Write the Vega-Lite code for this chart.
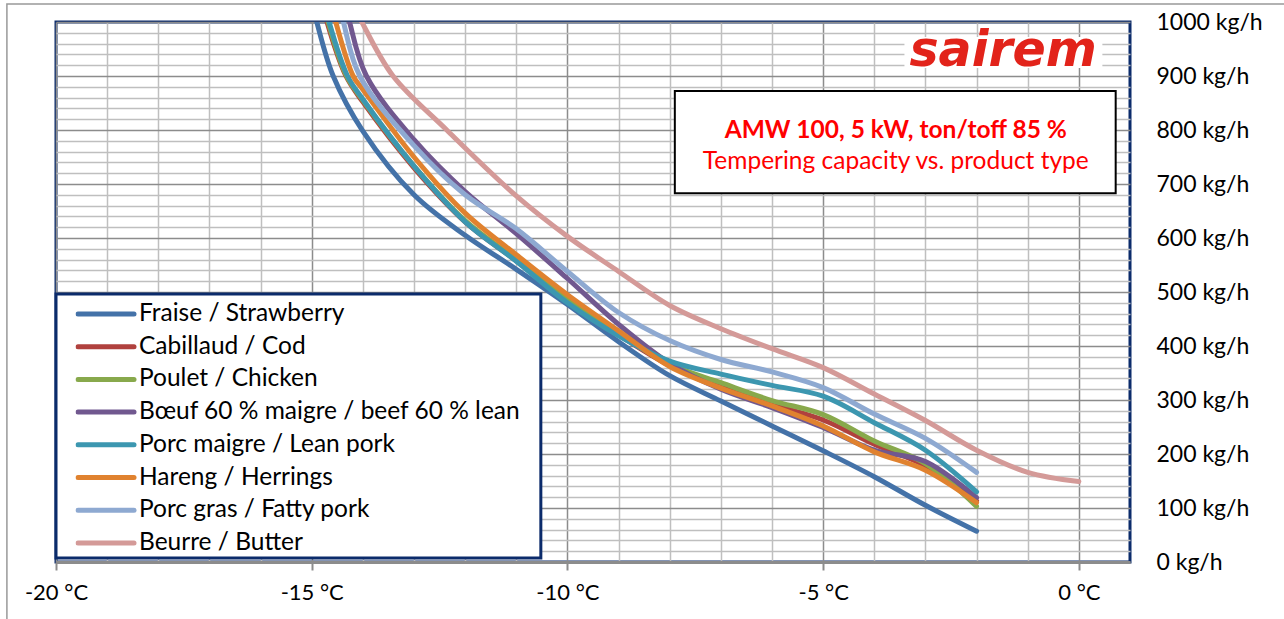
{
  "$schema": "https://vega.github.io/schema/vega-lite/v6.json",
  "width": 1074,
  "height": 540,
  "autosize": {"type": "none"},
  "padding": {"left": 56, "top": 22, "right": 154, "bottom": 57},
  "background": "white",
  "config": {"view": {"stroke": "#0B2B6B", "strokeWidth": 3}, "font": "Lato"},
  "datasets": {
    "curves": [
      {"s": "Fraise / Strawberry", "t": -15.0, "v": 1040}, {"s": "Fraise / Strawberry", "t": -14.9, "v": 1000}, {"s": "Fraise / Strawberry", "t": -14.58, "v": 900}, {"s": "Fraise / Strawberry", "t": -14, "v": 798}, {"s": "Fraise / Strawberry", "t": -13, "v": 680}, {"s": "Fraise / Strawberry", "t": -12, "v": 605}, {"s": "Fraise / Strawberry", "t": -11, "v": 542}, {"s": "Fraise / Strawberry", "t": -10, "v": 477}, {"s": "Fraise / Strawberry", "t": -9, "v": 408}, {"s": "Fraise / Strawberry", "t": -8, "v": 345}, {"s": "Fraise / Strawberry", "t": -7, "v": 298}, {"s": "Fraise / Strawberry", "t": -6, "v": 252}, {"s": "Fraise / Strawberry", "t": -5, "v": 206}, {"s": "Fraise / Strawberry", "t": -4, "v": 158}, {"s": "Fraise / Strawberry", "t": -3, "v": 105}, {"s": "Fraise / Strawberry", "t": -2, "v": 57},
      {"s": "Cabillaud / Cod", "t": -14.8, "v": 1040}, {"s": "Cabillaud / Cod", "t": -14.7, "v": 1000}, {"s": "Cabillaud / Cod", "t": -14.33, "v": 900}, {"s": "Cabillaud / Cod", "t": -14, "v": 852}, {"s": "Cabillaud / Cod", "t": -13, "v": 730}, {"s": "Cabillaud / Cod", "t": -12, "v": 630}, {"s": "Cabillaud / Cod", "t": -11, "v": 558}, {"s": "Cabillaud / Cod", "t": -10, "v": 486}, {"s": "Cabillaud / Cod", "t": -9, "v": 421}, {"s": "Cabillaud / Cod", "t": -8, "v": 364}, {"s": "Cabillaud / Cod", "t": -7, "v": 325}, {"s": "Cabillaud / Cod", "t": -6, "v": 292}, {"s": "Cabillaud / Cod", "t": -5, "v": 263}, {"s": "Cabillaud / Cod", "t": -4, "v": 218}, {"s": "Cabillaud / Cod", "t": -3, "v": 178}, {"s": "Cabillaud / Cod", "t": -2, "v": 113},
      {"s": "Poulet / Chicken", "t": -14.78, "v": 1040}, {"s": "Poulet / Chicken", "t": -14.68, "v": 1000}, {"s": "Poulet / Chicken", "t": -14.32, "v": 900}, {"s": "Poulet / Chicken", "t": -14, "v": 855}, {"s": "Poulet / Chicken", "t": -13, "v": 733}, {"s": "Poulet / Chicken", "t": -12, "v": 632}, {"s": "Poulet / Chicken", "t": -11, "v": 560}, {"s": "Poulet / Chicken", "t": -10, "v": 488}, {"s": "Poulet / Chicken", "t": -9, "v": 423}, {"s": "Poulet / Chicken", "t": -8, "v": 366}, {"s": "Poulet / Chicken", "t": -7, "v": 332}, {"s": "Poulet / Chicken", "t": -6, "v": 299}, {"s": "Poulet / Chicken", "t": -5, "v": 273}, {"s": "Poulet / Chicken", "t": -4, "v": 224}, {"s": "Poulet / Chicken", "t": -3, "v": 182}, {"s": "Poulet / Chicken", "t": -2, "v": 103},
      {"s": "Bœuf 60 % maigre / beef 60 % lean", "t": -14.36, "v": 1040}, {"s": "Bœuf 60 % maigre / beef 60 % lean", "t": -14.26, "v": 1000}, {"s": "Bœuf 60 % maigre / beef 60 % lean", "t": -13.93, "v": 900}, {"s": "Bœuf 60 % maigre / beef 60 % lean", "t": -13, "v": 782}, {"s": "Bœuf 60 % maigre / beef 60 % lean", "t": -12, "v": 686}, {"s": "Bœuf 60 % maigre / beef 60 % lean", "t": -11, "v": 608}, {"s": "Bœuf 60 % maigre / beef 60 % lean", "t": -10, "v": 525}, {"s": "Bœuf 60 % maigre / beef 60 % lean", "t": -9, "v": 440}, {"s": "Bœuf 60 % maigre / beef 60 % lean", "t": -8, "v": 368}, {"s": "Bœuf 60 % maigre / beef 60 % lean", "t": -7, "v": 320}, {"s": "Bœuf 60 % maigre / beef 60 % lean", "t": -6, "v": 286}, {"s": "Bœuf 60 % maigre / beef 60 % lean", "t": -5, "v": 249}, {"s": "Bœuf 60 % maigre / beef 60 % lean", "t": -4, "v": 207}, {"s": "Bœuf 60 % maigre / beef 60 % lean", "t": -3, "v": 186}, {"s": "Bœuf 60 % maigre / beef 60 % lean", "t": -2, "v": 119},
      {"s": "Porc maigre / Lean pork", "t": -14.76, "v": 1040}, {"s": "Porc maigre / Lean pork", "t": -14.66, "v": 1000}, {"s": "Porc maigre / Lean pork", "t": -14.3, "v": 900}, {"s": "Porc maigre / Lean pork", "t": -14, "v": 857}, {"s": "Porc maigre / Lean pork", "t": -13, "v": 733}, {"s": "Porc maigre / Lean pork", "t": -12, "v": 630}, {"s": "Porc maigre / Lean pork", "t": -11, "v": 557}, {"s": "Porc maigre / Lean pork", "t": -10, "v": 480}, {"s": "Porc maigre / Lean pork", "t": -9, "v": 419}, {"s": "Porc maigre / Lean pork", "t": -8, "v": 372}, {"s": "Porc maigre / Lean pork", "t": -7, "v": 348}, {"s": "Porc maigre / Lean pork", "t": -6, "v": 327}, {"s": "Porc maigre / Lean pork", "t": -5, "v": 307}, {"s": "Porc maigre / Lean pork", "t": -4, "v": 258}, {"s": "Porc maigre / Lean pork", "t": -3, "v": 207}, {"s": "Porc maigre / Lean pork", "t": -2, "v": 130},
      {"s": "Hareng / Herrings", "t": -14.63, "v": 1040}, {"s": "Hareng / Herrings", "t": -14.53, "v": 1000}, {"s": "Hareng / Herrings", "t": -14.19, "v": 900}, {"s": "Hareng / Herrings", "t": -14, "v": 875}, {"s": "Hareng / Herrings", "t": -13, "v": 750}, {"s": "Hareng / Herrings", "t": -12, "v": 646}, {"s": "Hareng / Herrings", "t": -11, "v": 569}, {"s": "Hareng / Herrings", "t": -10, "v": 495}, {"s": "Hareng / Herrings", "t": -9, "v": 428}, {"s": "Hareng / Herrings", "t": -8, "v": 362}, {"s": "Hareng / Herrings", "t": -7, "v": 322}, {"s": "Hareng / Herrings", "t": -6, "v": 289}, {"s": "Hareng / Herrings", "t": -5, "v": 252}, {"s": "Hareng / Herrings", "t": -4, "v": 204}, {"s": "Hareng / Herrings", "t": -3, "v": 170}, {"s": "Hareng / Herrings", "t": -2, "v": 110},
      {"s": "Porc gras / Fatty pork", "t": -14.48, "v": 1040}, {"s": "Porc gras / Fatty pork", "t": -14.38, "v": 1000}, {"s": "Porc gras / Fatty pork", "t": -14.06, "v": 900}, {"s": "Porc gras / Fatty pork", "t": -13, "v": 771}, {"s": "Porc gras / Fatty pork", "t": -12, "v": 680}, {"s": "Porc gras / Fatty pork", "t": -11, "v": 617}, {"s": "Porc gras / Fatty pork", "t": -10, "v": 538}, {"s": "Porc gras / Fatty pork", "t": -9, "v": 462}, {"s": "Porc gras / Fatty pork", "t": -8, "v": 410}, {"s": "Porc gras / Fatty pork", "t": -7, "v": 375}, {"s": "Porc gras / Fatty pork", "t": -6, "v": 352}, {"s": "Porc gras / Fatty pork", "t": -5, "v": 323}, {"s": "Porc gras / Fatty pork", "t": -4, "v": 274}, {"s": "Porc gras / Fatty pork", "t": -3, "v": 229}, {"s": "Porc gras / Fatty pork", "t": -2, "v": 166},
      {"s": "Beurre / Butter", "t": -14.2, "v": 1035}, {"s": "Beurre / Butter", "t": -14.02, "v": 1000}, {"s": "Beurre / Butter", "t": -13.41, "v": 900}, {"s": "Beurre / Butter", "t": -12.36, "v": 800}, {"s": "Beurre / Butter", "t": -11, "v": 678}, {"s": "Beurre / Butter", "t": -10, "v": 603}, {"s": "Beurre / Butter", "t": -9, "v": 538}, {"s": "Beurre / Butter", "t": -8, "v": 475}, {"s": "Beurre / Butter", "t": -7, "v": 432}, {"s": "Beurre / Butter", "t": -6, "v": 395}, {"s": "Beurre / Butter", "t": -5, "v": 360}, {"s": "Beurre / Butter", "t": -4, "v": 311}, {"s": "Beurre / Butter", "t": -3, "v": 262}, {"s": "Beurre / Butter", "t": -2, "v": 207}, {"s": "Beurre / Butter", "t": -1, "v": 166}, {"s": "Beurre / Butter", "t": 0, "v": 149}
    ]
  },
  "layer": [
    {
      "data": {"values": [{}]},
      "mark": {"type": "rect", "fillOpacity": 0, "stroke": "#999999", "strokeWidth": 1.5},
      "encoding": {
        "x": {"datum": -20.96, "type": "quantitative", "scale": {"domain": [-20, 1], "nice": false},
          "axis": {"orient": "bottom", "values": [-19, -18, -17, -16, -14, -13, -12, -11, -9, -8, -7, -6, -4, -3, -2, -1], "grid": true, "gridColor": "#BFBFBF", "gridWidth": 1.5, "labels": false, "ticks": false, "domain": false, "title": null}},
        "x2": {"datum": 4.2},
        "y": {"datum": 1033.3, "type": "quantitative", "scale": {"domain": [0, 1000], "nice": false},
          "axis": {"orient": "right", "values": [20, 40, 60, 80, 120, 140, 160, 180, 220, 240, 260, 280, 320, 340, 360, 380, 420, 440, 460, 480, 520, 540, 560, 580, 620, 640, 660, 680, 720, 740, 760, 780, 820, 840, 860, 880, 920, 940, 960, 980], "grid": true, "gridColor": "#BFBFBF", "gridWidth": 1.5, "labels": false, "ticks": false, "domain": false, "title": null}},
        "y2": {"datum": -120}
      }
    },
    {
      "data": {"values": [{}]},
      "mark": {"type": "rect", "fill": "white", "stroke": "#0B2B6B", "strokeWidth": 3},
      "encoding": {
        "x": {"datum": -20, "type": "quantitative", "scale": {"domain": [-20, 1], "nice": false},
          "axis": {"orient": "bottom", "values": [-20, -15, -10, -5, 0], "grid": true, "gridColor": "#8C8C8C", "gridWidth": 1.5, "labelExpr": "datum.value + ' °C'", "labelFont": "Lato", "labelFontSize": 22, "labelColor": "#000000", "labelPadding": 12, "ticks": true, "tickSize": 8, "tickColor": "#8C8C8C", "tickWidth": 2, "domain": true, "domainColor": "#8C8C8C", "domainWidth": 3, "title": null, "labelFlush": false, "labelOverlap": false}},
        "x2": {"datum": -10.52},
        "y": {"datum": 496.3, "type": "quantitative", "scale": {"domain": [0, 1000], "nice": false},
          "axis": {"orient": "right", "values": [0, 100, 200, 300, 400, 500, 600, 700, 800, 900, 1000], "grid": true, "gridColor": "#8C8C8C", "gridWidth": 1.5, "labelExpr": "datum.value + ' kg/h'", "labelFont": "Lato", "labelFontSize": 23, "labelColor": "#000000", "labelAlign": "left", "labelPadding": 26, "ticks": false, "domain": false, "title": null, "labelFlush": false, "labelOverlap": false}},
        "y2": {"datum": 7.4}
      }
    },
    {
      "data": {"values": [{}]},
      "mark": {"type": "rect", "fill": "white", "stroke": "#000000", "strokeWidth": 2},
      "encoding": {
        "x": {"datum": -7.9, "type": "quantitative", "scale": {"domain": [-20, 1], "nice": false}, "axis": null},
        "x2": {"datum": 0.72},
        "y": {"datum": 872.2, "type": "quantitative", "scale": {"domain": [0, 1000], "nice": false}, "axis": null},
        "y2": {"datum": 682.8}
      }
    },
    {
      "data": {"values": [{}]},
      "mark": {"type": "rect", "fill": "white"},
      "encoding": {
        "x": {"datum": -3.41, "type": "quantitative", "scale": {"domain": [-20, 1], "nice": false}, "axis": null},
        "x2": {"datum": 0.46},
        "y": {"datum": 972, "type": "quantitative", "scale": {"domain": [0, 1000], "nice": false}, "axis": null},
        "y2": {"datum": 915}
      }
    },
    {
      "data": {"name": "curves"},
      "mark": {"type": "line", "interpolate": "catmull-rom", "strokeWidth": 5, "strokeCap": "round", "strokeJoin": "round", "clip": true},
      "encoding": {
        "x": {"field": "t", "type": "quantitative", "scale": {"domain": [-20, 1], "nice": false}, "axis": null},
        "y": {"field": "v", "type": "quantitative", "scale": {"domain": [0, 1000], "nice": false}, "axis": null},
        "color": {"field": "s", "type": "nominal",
          "scale": {"domain": ["Fraise / Strawberry", "Cabillaud / Cod", "Poulet / Chicken", "Bœuf 60 % maigre / beef 60 % lean", "Porc maigre / Lean pork", "Hareng / Herrings", "Porc gras / Fatty pork", "Beurre / Butter"],
                    "range": ["#4472A8", "#B0413E", "#88A94C", "#71588F", "#3C97B0", "#E0822F", "#8EA9D1", "#D49A98"]},
          "legend": {"orient": "none", "legendX": 19.5, "legendY": 280, "title": null, "symbolType": "stroke", "symbolSize": 3136, "symbolStrokeWidth": 5, "labelFont": "Lato", "labelFontSize": 24.5, "labelColor": "#000000", "labelOffset": 2.5, "rowPadding": 7.7, "clipHeight": 24, "labelLimit": 600, "padding": 0, "symbolOffset": 0,
            "encode": {"symbols": {"update": {"strokeCap": {"value": "round"}}}}}},
        "detail": {"field": "s"}
      }
    },
    {
      "data": {"values": [{}]},
      "mark": {"type": "text", "text": "AMW 100, 5 kW, ton/toff 85 %", "font": "Lato", "fontWeight": "bold", "fontSize": 24.5, "color": "#FF0000", "align": "center", "baseline": "alphabetic"},
      "encoding": {
        "x": {"datum": -3.58, "type": "quantitative", "scale": {"domain": [-20, 1], "nice": false}, "axis": null},
        "y": {"datum": 786, "type": "quantitative", "scale": {"domain": [0, 1000], "nice": false}, "axis": null}
      }
    },
    {
      "data": {"values": [{}]},
      "mark": {"type": "text", "text": "Tempering capacity vs. product type", "font": "Lato", "fontSize": 24.5, "color": "#FF0000", "align": "center", "baseline": "alphabetic"},
      "encoding": {
        "x": {"datum": -3.58, "type": "quantitative", "scale": {"domain": [-20, 1], "nice": false}, "axis": null},
        "y": {"datum": 727, "type": "quantitative", "scale": {"domain": [0, 1000], "nice": false}, "axis": null}
      }
    },
    {
      "data": {"values": [{}]},
      "mark": {"type": "text", "text": "sairem", "font": "DejaVu Sans", "fontWeight": "bold", "fontStyle": "italic", "fontSize": 49, "color": "#E2231A", "align": "center", "baseline": "middle"},
      "encoding": {
        "x": {"datum": -1.48, "type": "quantitative", "scale": {"domain": [-20, 1], "nice": false}, "axis": null},
        "y": {"datum": 946, "type": "quantitative", "scale": {"domain": [0, 1000], "nice": false}, "axis": null}
      }
    }
  ],
  "resolve": {"axis": {"x": "independent", "y": "independent"}}
}
